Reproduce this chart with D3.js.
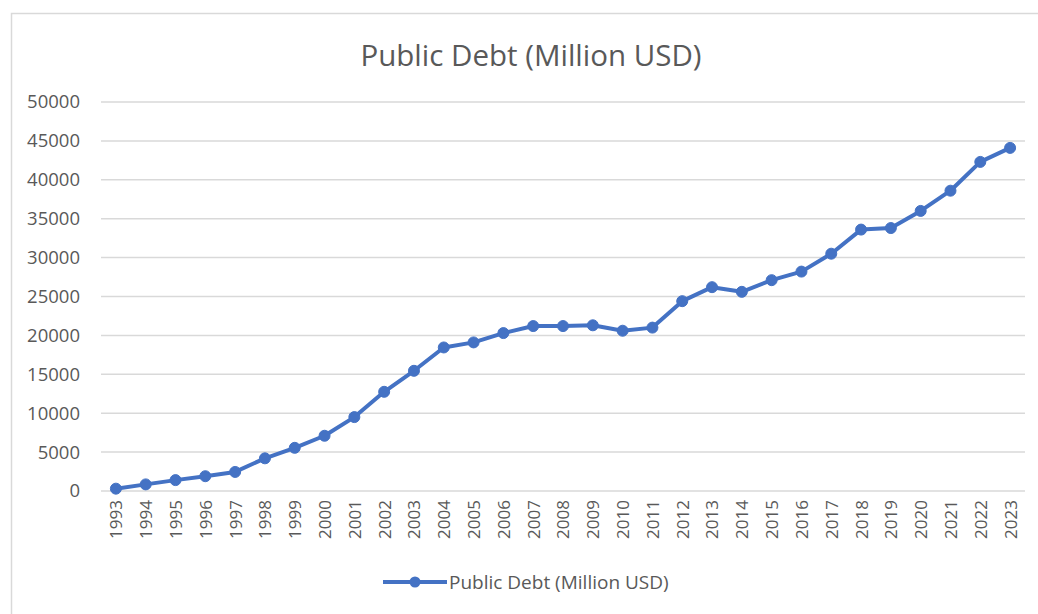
<!DOCTYPE html>
<html>
<head>
<meta charset="utf-8">
<script src="https://cdn.jsdelivr.net/npm/d3@7"></script>
<style>
  body { margin: 0; background: #fff; }
  svg { display: block; }
  text { font-family: "Open Sans", "Noto Sans", sans-serif; fill: #595959; }
</style>
</head>
<body>
<svg id="chart" width="1038" height="614"></svg>
<script>
// data
const years = d3.range(1993, 2024).map(String);
const debt = [
    300, 850, 1400, 1900, 2450, 4200, 5550, 7100, 9500, 12750,
    15450, 18450, 19100, 20300, 21200, 21200, 21300, 20600, 21000, 24400,
    26200, 25600, 27100, 28200, 30500, 33600, 33800, 36000, 38600, 42300,
    44100
];
const yTicks = [0, 5000, 10000, 15000, 20000, 25000, 30000, 35000, 40000, 45000, 50000];
const title = "Public Debt (Million USD)";
const seriesName = "Public Debt (Million USD)";

const blue = '#4472c4';
const grey = '#d9d9d9';

let svg = d3.select('#chart');

// chart frame
svg.append('rect')
    .attr('x', 11.5).attr('y', 13.5)
    .attr('width', 1060).attr('height', 640)
    .attr('fill', '#fff')
    .attr('stroke', grey).attr('stroke-width', 1.5);

let x = d3.scalePoint()
    .domain(years)
    .range([101, 1025])
    .padding(0.5);

let y = d3.scaleLinear()
    .domain([0, 50000])
    .range([491, 102]);

// gridlines
svg.append('g')
    .selectAll('line')
    .data(yTicks)
    .join('line')
    .attr('x1', 101).attr('x2', 1025)
    .attr('y1', d => y(d)).attr('y2', d => y(d))
    .attr('stroke', grey)
    .attr('stroke-width', 1.5);

// y axis labels
let yAxis = svg.append('g')
    .attr('transform', 'translate(80,0)')
    .call(d3.axisLeft(y).tickValues(yTicks).tickSize(0).tickPadding(0).tickFormat(d3.format('d')));
yAxis.select('.domain').remove();
yAxis.selectAll('text')
    .attr('font-size', 18.5)
    .attr('fill', '#595959')
    .style('font-family', '"Open Sans", sans-serif');

// x axis labels
let xAxis = svg.append('g')
    .attr('transform', 'translate(0,491)')
    .call(d3.axisBottom(x).tickSize(0).tickPadding(0));
xAxis.select('.domain').remove();
xAxis.selectAll('text')
    .attr('font-size', 17)
    .attr('fill', '#595959')
    .style('font-family', '"Open Sans", sans-serif')
    .attr('text-anchor', 'end')
    .attr('transform', 'rotate(-90)')
    .attr('x', -9)
    .attr('y', 0)
    .attr('dy', '0.35em');

// line + markers
let line = d3.line()
    .x((d, i) => x(years[i]))
    .y(d => y(d));

svg.append('path')
    .datum(debt)
    .attr('d', line)
    .attr('fill', 'none')
    .attr('stroke', blue)
    .attr('stroke-width', 4)
    .attr('stroke-linejoin', 'round');

svg.append('g')
    .selectAll('circle')
    .data(debt)
    .join('circle')
    .attr('cx', (d, i) => x(years[i]))
    .attr('cy', d => y(d))
    .attr('r', 5.5)
    .attr('fill', blue)
    .attr('stroke', blue)
    .attr('stroke-width', 1);

// title
svg.append('text')
    .attr('x', 531).attr('y', 66)
    .attr('text-anchor', 'middle')
    .attr('font-size', 29.5)
    .text(title);

// legend
let lg = svg.append('g').attr('transform', 'translate(383,582)');
lg.append('line')
    .attr('x1', 0).attr('x2', 64)
    .attr('stroke', blue).attr('stroke-width', 4);
lg.append('circle')
    .attr('cx', 32).attr('r', 5.5)
    .attr('fill', blue);
lg.append('text')
    .attr('x', 66).attr('dy', '0.35em')
    .attr('font-size', 19)
    .text(seriesName);
</script>
</body>
</html>
